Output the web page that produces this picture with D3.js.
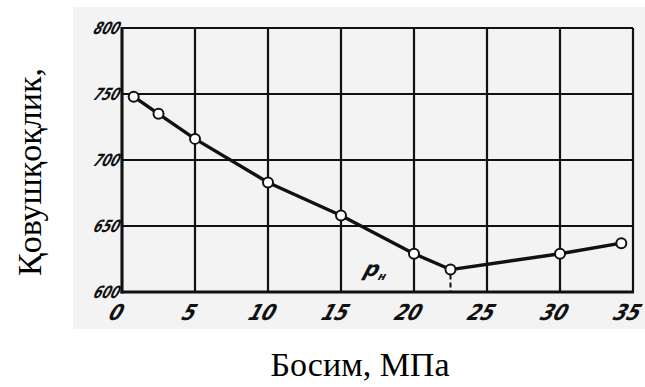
<!DOCTYPE html>
<html>
<head>
<meta charset="utf-8">
<script src="https://cdn.jsdelivr.net/npm/d3@7/dist/d3.min.js"></script>
<style>
  html, body { margin: 0; padding: 0; background: #ffffff; }
  svg { display: block; }
</style>
</head>
<body>
<svg id="chart" width="645" height="387"></svg>
<script>
// Pressure (MPa) and viscosity readings
const pressure  = [0.8, 2.5, 5, 10, 15, 20, 22.5, 30, 34.2];
const viscosity = [748, 735, 716, 683, 658, 629, 617, 629, 637];

const xTicks = [0, 5, 10, 15, 20, 25, 30, 35];
const yTicks = [600, 650, 700, 750, 800];

const saturationPressure = 22.5;   // p_н marker position

const xTitle = "Босим, МПа";
const yTitle = "Қовушқоқлик,";

const svg = d3.select("#chart");
const W = 645, H = 387;
const plot = { left: 122, right: 633, top: 28, bottom: 292 };

// Scanned-paper backdrop behind the plot
svg.append("rect")
  .attr("x", 73).attr("y", 7)
  .attr("width", W - 73).attr("height", 322)
  .attr("fill", "#f3f3f3");

const x = d3.scaleLinear().domain([0, 35]).range([plot.left, plot.right]);
const y = d3.scaleLinear().domain([600, 800]).range([plot.bottom, plot.top]);

const ink = "#111";

// Grid: vertical lines
svg.append("g")
  .selectAll("line")
  .data(xTicks)
  .join("line")
  .attr("x1", d => x(d)).attr("x2", d => x(d))
  .attr("y1", plot.top).attr("y2", plot.bottom)
  .attr("stroke", ink).attr("stroke-width", 2.2);

// Grid: horizontal lines
svg.append("g")
  .selectAll("line")
  .data(yTicks)
  .join("line")
  .attr("x1", plot.left).attr("x2", plot.right)
  .attr("y1", d => y(d)).attr("y2", d => y(d))
  .attr("stroke", ink).attr("stroke-width", 2.2);

// Heavier frame along the left and bottom
svg.append("line")
  .attr("x1", x(0)).attr("x2", x(0))
  .attr("y1", plot.top - 1).attr("y2", plot.bottom + 1.5)
  .attr("stroke", ink).attr("stroke-width", 3);
svg.append("line")
  .attr("x1", plot.left - 1.5).attr("x2", plot.right + 1)
  .attr("y1", y(600)).attr("y2", y(600))
  .attr("stroke", ink).attr("stroke-width", 3);

// Tick labels in slanted, condensed drafting style
const tickFont = "'DejaVu Sans', sans-serif";

svg.append("g")
  .selectAll("text")
  .data(xTicks)
  .join("text")
  .attr("transform", d => `translate(${x(d) - 8},${plot.bottom + 28}) skewX(-20) scale(0.85,1)`)
  .attr("text-anchor", "middle")
  .attr("font-family", tickFont)
  .attr("font-style", "italic")
  .attr("font-weight", "bold")
  .attr("font-size", 22)
  .attr("fill", ink)
  .text(d => d);

svg.append("g")
  .selectAll("text")
  .data(yTicks)
  .join("text")
  .attr("transform", d => `translate(${plot.left - 4},${y(d) + 6}) skewX(-20) scale(0.72,1)`)
  .attr("text-anchor", "end")
  .attr("font-family", tickFont)
  .attr("font-style", "italic")
  .attr("font-weight", "bold")
  .attr("font-size", 17)
  .attr("fill", ink)
  .text(d => d);

const points = pressure.map((p, i) => ({ p, v: viscosity[i] }));

// Drop line at the saturation pressure
const minPoint = points.find(d => d.p === saturationPressure);
svg.append("line")
  .attr("x1", x(saturationPressure)).attr("x2", x(saturationPressure))
  .attr("y1", y(minPoint.v) + 5).attr("y2", y(600))
  .attr("stroke", ink).attr("stroke-width", 2)
  .attr("stroke-dasharray", "5,3");

// Data line
svg.append("path")
  .datum(points)
  .attr("fill", "none")
  .attr("stroke", ink)
  .attr("stroke-width", 3.4)
  .attr("stroke-linejoin", "round")
  .attr("d", d3.line().x(d => x(d.p)).y(d => y(d.v)));

// Open circle markers
svg.append("g")
  .selectAll("circle")
  .data(points)
  .join("circle")
  .attr("cx", d => x(d.p))
  .attr("cy", d => y(d.v))
  .attr("r", 5)
  .attr("fill", "#ffffff")
  .attr("stroke", ink)
  .attr("stroke-width", 2);

// p_н annotation
const pLabel = svg.append("text")
  .attr("transform", `translate(${x(saturationPressure) - 88},${y(612)}) skewX(-18)`)
  .attr("font-family", tickFont)
  .attr("font-style", "italic")
  .attr("font-weight", "bold")
  .attr("fill", ink);
pLabel.append("tspan").attr("font-size", 21).text("p");
pLabel.append("tspan").attr("font-size", 11).attr("dy", 4).attr("dx", 1).text("н");

// Axis titles
svg.append("text")
  .attr("x", 360).attr("y", 376)
  .attr("text-anchor", "middle")
  .attr("font-family", "'Liberation Serif', 'Times New Roman', serif")
  .attr("font-size", 34)
  .attr("fill", "#000")
  .text(xTitle);

svg.append("text")
  .attr("transform", "translate(41,172) rotate(-90)")
  .attr("text-anchor", "middle")
  .attr("font-family", "'Liberation Serif', 'Times New Roman', serif")
  .attr("font-size", 34)
  .attr("fill", "#000")
  .text(yTitle);
</script>
</body>
</html>
